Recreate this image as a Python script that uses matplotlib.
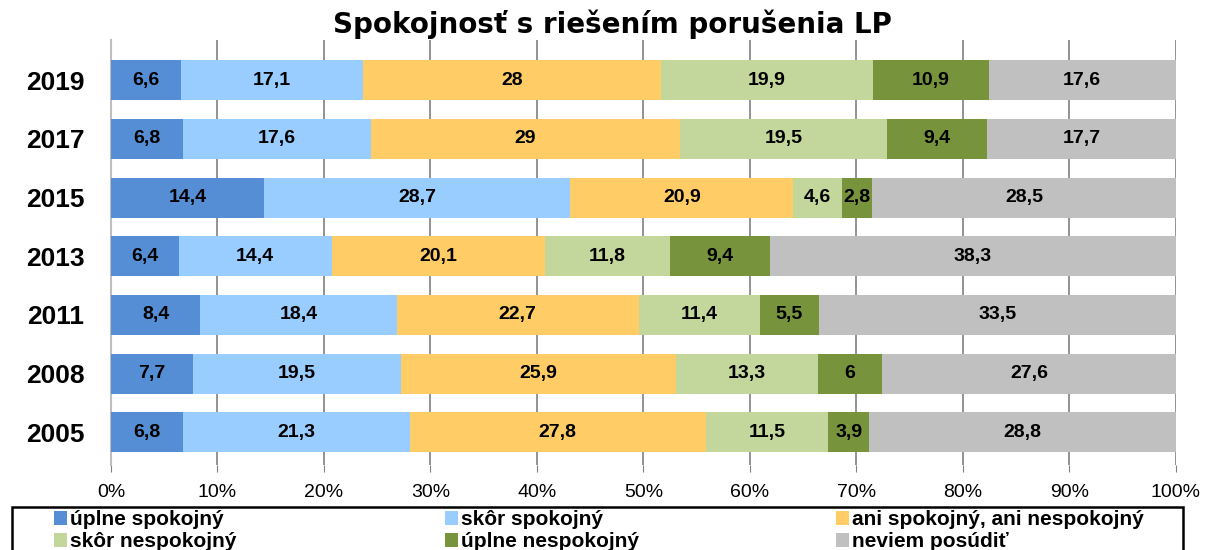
import numpy as np
import matplotlib.pyplot as plt
from matplotlib import font_manager
from matplotlib.patches import Rectangle

# ----- data -----
years = ["2019", "2017", "2015", "2013", "2011", "2008", "2005"]
uplne_spokojny = [6.6, 6.8, 14.4, 6.4, 8.4, 7.7, 6.8]
skor_spokojny = [17.1, 17.6, 28.7, 14.4, 18.4, 19.5, 21.3]
ani_ani = [28, 29, 20.9, 20.1, 22.7, 25.9, 27.8]
skor_nespokojny = [19.9, 19.5, 4.6, 11.8, 11.4, 13.3, 11.5]
uplne_nespokojny = [10.9, 9.4, 2.8, 9.4, 5.5, 6, 3.9]
neviem = [17.6, 17.7, 28.5, 38.3, 33.5, 27.6, 28.8]

series_names = ["úplne spokojný", "skôr spokojný", "ani spokojný, ani nespokojný",
                "skôr nespokojný", "úplne nespokojný", "neviem posúdiť"]
colors = ["#558ED5", "#99CCFF", "#FFCC66", "#C3D69B", "#77933C", "#C0C0C0"]

series = [uplne_spokojny, skor_spokojny, ani_ani, skor_nespokojny, uplne_nespokojny, neviem]

available = {f.name for f in font_manager.fontManager.ttflist}
narrow = "Liberation Sans Narrow" if "Liberation Sans Narrow" in available else "Liberation Sans"
plt.rcParams["font.family"] = ["Liberation Sans", "DejaVu Sans"]

fig = plt.figure(figsize=(12.06, 5.5), dpi=100)
ax = fig.add_axes([0.092, 0.155, 0.883, 0.772])

data = np.array(series, dtype=float)
totals = data.sum(axis=0)
pct = data / totals * 100

y = np.arange(len(years))
left = np.zeros(len(years))
handles = []
for k in range(len(series)):
    h = ax.barh(y, pct[k], left=left, height=0.68, color=colors[k], label=series_names[k], zorder=3)
    handles.append(h)
    for i in range(len(years)):
        v = series[k][i]
        txt = ("%g" % v).replace(".", ",")
        ax.text(left[i] + pct[k][i] / 2, y[i], txt, ha="center", va="center",
                fontsize=14, fontweight="bold", color="black", zorder=4)
    left += pct[k]

ax.set_xlim(0, 100)
ax.set_ylim(len(years) - 0.45, -0.68)
ax.set_yticks(y)
ax.set_yticklabels(years, fontsize=19, fontweight="bold")
ax.tick_params(axis="y", length=0, pad=19)
ax.set_xticks(np.arange(0, 101, 10))
ax.set_xticklabels([f"{t}%" for t in range(0, 101, 10)], fontsize=14, family=narrow)
ax.tick_params(axis="x", length=5, color="#808080", pad=9)
ax.grid(axis="x", color="#808080", linewidth=1.2, zorder=0)
for s in ["top", "right", "bottom"]:
    ax.spines[s].set_visible(False)
ax.spines["left"].set_color("#BFBFBF")
ax.spines["left"].set_linewidth(1.5)

fig.suptitle("Spokojnosť s riešením porušenia LP", x=0.508, y=0.982,
             fontsize=20, fontweight="heavy", family=["DejaVu Sans"])

# legend box (runs off the bottom edge like the original)
fig.patches.append(Rectangle((12 / 1206, -0.05), 1171 / 1206, 0.128, transform=fig.transFigure,
                             fill=False, edgecolor="black", linewidth=1.8))

# one small legend per column, so the columns sit where the original has them
col_x = [54, 445, 836]
for c in range(3):
    idx = [c, c + 3]
    fig.legend([handles[i] for i in idx], [series_names[i] for i in idx],
               loc="upper left", bbox_to_anchor=(col_x[c] / 1206, 0.072),
               ncol=1, frameon=False, handlelength=0.6, handleheight=0.65,
               handletextpad=0.15, borderpad=0, labelspacing=0.12, borderaxespad=0,
               prop={"family": narrow, "weight": "bold", "size": 15})

fig.savefig("out.png", dpi=100)
